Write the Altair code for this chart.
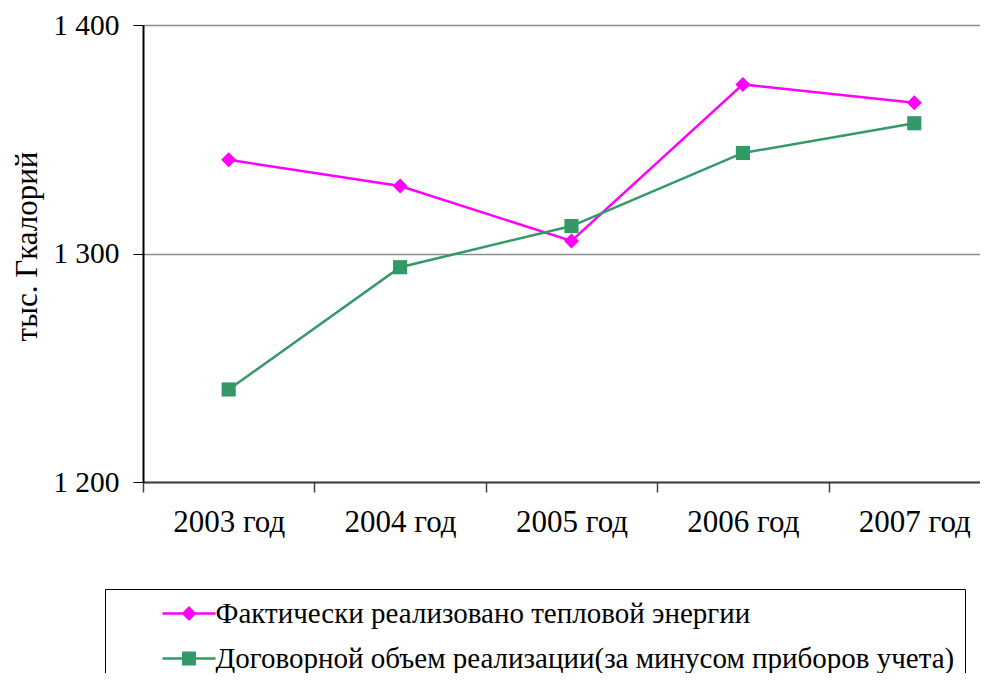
import altair as alt
import pandas as pd

years = ["2003 год", "2004 год", "2005 год", "2006 год", "2007 год"]
series_names = [
    "Фактически реализовано тепловой энергии",
    "Договорной объем реализации(за минусом приборов учета)",
]
actual = [1341, 1329.5, 1305.5, 1374, 1366]
contract = [1240.5, 1294, 1312, 1344, 1357]
colors = ["#FF00FF", "#339966"]
marker_shapes = ["diamond", "square"]
marker_sizes = [225, 200]
y_ticks = [1200, 1300, 1400]
y_title = "тыс. Гкалорий"

rows = []
for name, vals in zip(series_names, [actual, contract]):
    for yr, v in zip(years, vals):
        rows.append({"year": yr, "series": name, "value": v})
df = pd.DataFrame(rows)

FONT = "Liberation Serif"

# legend symbols: line stub + marker (unit = 12px)
legend_paths = [
    "M-2.21,-0.1H2.21V0.1H-2.21Z M0,-0.62L0.62,0L0,0.62L-0.62,0Z",
    "M-2.21,-0.11H2.21V0.11H-2.21Z M-0.58,-0.58H0.58V0.58H-0.58Z",
]

x_enc = alt.X(
    "year:N",
    sort=years,
    scale=alt.Scale(type="band", domain=years, paddingInner=0, paddingOuter=0),
    axis=alt.Axis(
        title=None, tickBand="extent", labelAngle=0, labelFont=FONT, labelFontSize=31,
        labelColor="black", labelPadding=15, tickSize=10, tickColor="#404040",
        domainColor="#404040", domainWidth=2, tickWidth=1.5, grid=False,
    ),
)
y_enc = alt.Y(
    "value:Q",
    scale=alt.Scale(domain=[1200, 1400], nice=False, zero=False),
    axis=alt.Axis(
        values=y_ticks, title=y_title,
        labelExpr="replace(format(datum.value, ','), ',', ' ')",
        labelFont=FONT, labelFontSize=29.5, labelColor="black", labelPadding=14,
        tickSize=10, tickColor="black", domainColor="black", domainWidth=2,
        grid=True, gridColor="#8c8c8c", gridWidth=1.5,
        titleFont=FONT, titleFontSize=31, titleFontWeight="normal", titleColor="black",
        titlePadding=9, titleY=221,
    ),
)

base = alt.Chart(df)

layers = []
for name, col in zip(series_names, colors):
    layers.append(
        base.transform_filter(alt.datum.series == name)
        .mark_line(strokeWidth=2.5, color=col)
        .encode(x=x_enc, y=y_enc)
    )
for name, col, shp, sz in zip(series_names, colors, marker_shapes, marker_sizes):
    layers.append(
        base.transform_filter(alt.datum.series == name)
        .mark_point(shape=shp, filled=True, size=sz, opacity=1, color=col)
        .encode(x=x_enc, y=y_enc)
    )

legend_props = dict(
    title=None, orient="none", legendX=-38, legendY=564, direction="vertical",
    symbolSize=576, symbolStrokeWidth=0, symbolOpacity=1, symbolOffset=59.5, labelOffset=12,
    labelFont=FONT, labelFontSize=29, labelColor="black", labelLimit=3000,
    strokeColor="black", fillColor="white", padding=10, rowPadding=15,
)
legend_layer = base.mark_point(filled=True, size=10, opacity=0).encode(
    x=x_enc, y=y_enc,
    color=alt.Color("series:N", scale=alt.Scale(domain=series_names, range=colors),
                    legend=alt.Legend(**legend_props)),
    shape=alt.Shape("series:N", scale=alt.Scale(domain=series_names, range=legend_paths),
                    legend=alt.Legend(**legend_props)),
)
layers.append(legend_layer)

chart = (
    alt.layer(*layers)
    .properties(
        width=857, height=457,
        autosize=alt.AutoSizeParams(type="none"),
        padding={"left": 135, "top": 17, "right": -20, "bottom": 191},
        background="white",
    )
    .configure(
        font=FONT,
        style={"guide-label": {"font": FONT}, "guide-title": {"font": FONT}},
    )
    .configure_view(stroke=None)
    .configure_legend(labelFont=FONT, labelFontSize=29, labelColor="black")
)

chart.save("out.html", embed_options={"renderer": "svg", "actions": False})
